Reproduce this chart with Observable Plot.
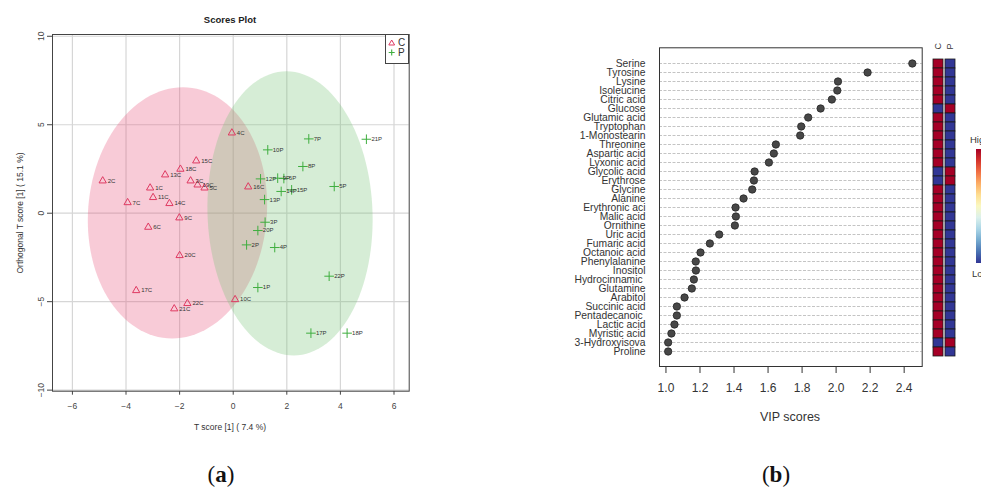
<!DOCTYPE html>
<html><head><meta charset="utf-8">
<script src="https://cdn.jsdelivr.net/npm/d3@7"></script>
<script src="https://cdn.jsdelivr.net/npm/@observablehq/plot@0.6"></script>
<style>
body{margin:0;background:#fff;}
#root{position:relative;width:981px;height:489px;overflow:hidden;font-family:"Liberation Sans",Arial,sans-serif;background:#fff;}
.ctr{position:absolute;transform:translate(-50%,-50%);white-space:nowrap;}
</style></head><body><div id="root"></div>
<script>
// ---------- (a) Scores plot data ----------
const cLabels = ["4C","15C","18C","13C","2C","3C","19C","5C","1C","11C","7C","14C","9C","6C","20C","17C","22C","21C","10C","16C"];
const cX = [-0.05,-1.38,-1.97,-2.54,-4.87,-1.59,-1.33,-1.07,-3.10,-2.99,-3.94,-2.38,-2.01,-3.17,-2.00,-3.62,-1.71,-2.20,0.07,0.56];
const cY = [4.54,2.96,2.49,2.17,1.83,1.83,1.60,1.43,1.43,0.89,0.60,0.55,-0.26,-0.79,-2.39,-4.37,-5.10,-5.40,-4.88,1.49];
const pLabels = ["21P","7P","10P","8P","12P","9P","6P","14P","15P","5P","13P","3P","20P","2P","4P","22P","1P","17P","18P"];
const pX = [4.97,2.82,1.29,2.60,1.02,1.66,1.89,1.79,2.18,3.77,1.17,1.19,0.92,0.50,1.55,3.58,0.92,2.90,4.25];
const pY = [4.18,4.20,3.58,2.64,1.94,1.98,1.96,1.23,1.32,1.51,0.77,-0.51,-0.98,-1.79,-1.94,-3.56,-4.20,-6.78,-6.78];
const xTicksA = [-6,-4,-2,0,2,4,6];
const yTicksA = [-10,-5,0,5,10];
// confidence ellipses (centre, radii, shear), one per group
const ellGroups = ["C","P"];
const ellCX = [-2.08, 2.12];
const ellCY = [0.02, -0.01];
const ellRX = [3.34, 3.08];
const ellRY = [7.10, 8.03];
const ellShear = [0.20, -0.135];

// ---------- (b) VIP data ----------
const metabolites = ["Serine","Tyrosine","Lysine","Isoleucine","Citric acid","Glucose","Glutamic acid","Tryptophan","1-Monostearin","Threonine","Aspartic acid","Lyxonic acid","Glycolic acid","Erythrose","Glycine","Alanine","Erythronic aci","Malic acid","Ornithine","Uric acid","Fumaric acid","Octanoic acid","Phenylalanine","Inositol","Hydrocinnamic ","Glutamine","Arabitol","Succinic acid","Pentadecanoic ","Lactic acid","Myristic acid","3-Hydroxyisova","Proline"];
const vipScores = [2.448,2.185,2.011,2.007,1.975,1.909,1.836,1.795,1.789,1.646,1.634,1.605,1.521,1.517,1.507,1.456,1.409,1.411,1.405,1.313,1.258,1.203,1.175,1.176,1.164,1.152,1.109,1.064,1.064,1.050,1.032,1.013,1.013];
const levelC = [1,1,1,1,1,-1,1,1,1,1,1,1,-1,-1,1,1,1,1,1,1,1,1,1,1,1,1,1,1,1,1,1,-1,1];
const levelP = [-1,-1,-1,-1,-1,1,-1,-1,-1,-1,-1,-1,1,1,-1,-1,-1,-1,-1,-1,-1,-1,-1,-1,-1,-1,-1,-1,-1,-1,-1,1,-1];
const vipTicks = [1.0,1.2,1.4,1.6,1.8,2.0,2.2,2.4];
const heatGroups = ["C","P"];

const root = document.getElementById("root");
function place(el, left, top){ el.style.position="absolute"; el.style.left=left+"px"; el.style.top=top+"px"; root.appendChild(el); return el; }
function label(html, x, y, css){ const d=document.createElement("div"); d.className="ctr"; d.innerHTML=html; d.style.left=x+"px"; d.style.top=y+"px"; Object.assign(d.style, css||{}); root.appendChild(d); return d; }

const cData = cLabels.map((l,i)=>({label:l, x:cX[i], y:cY[i]}));
const pData = pLabels.map((l,i)=>({label:l, x:pX[i], y:pY[i]}));
const ellPts = [];
ellGroups.forEach((g,i)=>{
  for(let k=0;k<=120;k++){
    const t = 2*Math.PI*k/120;
    ellPts.push({g, x: ellCX[i] + ellRX[i]*Math.cos(t) + ellShear[i]*Math.sin(t), y: ellCY[i] + ellRY[i]*Math.sin(t)});
  }
});

const colC = "#DF3A62", colP = "#3FAE3F";
const plotA = Plot.plot({
  width: 420, height: 440,
  marginLeft: 52, marginRight: 11.3, marginTop: 34, marginBottom: 49.3,
  x: {domain: [-6.743, 6.567], ticks: xTicksA, label: null, tickSize: 4, tickPadding: 8},
  y: {domain: [-10.06, 10.1], ticks: yTicksA, label: null, tickSize: 5, tickPadding: 4, tickRotate: -90},
  style: {fontFamily: "Liberation Sans, Arial, sans-serif", fontSize: "8.5px", color: "#444", background: "transparent"},
  marks: [
    Plot.gridX(xTicksA, {stroke: "#d6d6d6", strokeOpacity: 1, strokeWidth: 1.2}),
    Plot.gridY(yTicksA, {stroke: "#d6d6d6", strokeOpacity: 1, strokeWidth: 1.2}),
    Plot.line(ellPts.filter(d=>d.g==="C"), {x:"x", y:"y", fill:"#E8537A", fillOpacity:0.3, stroke:"none", curve:"linear-closed"}),
    Plot.line(ellPts.filter(d=>d.g==="P"), {x:"x", y:"y", fill:"#76C376", fillOpacity:0.3, stroke:"none", curve:"linear-closed"}),
    Plot.dot(cData, {x:"x", y:"y", symbol:"triangle", r:2.7, stroke: colC, fill:"none", strokeWidth:1}),
    Plot.dot(pData, {x:"x", y:"y", symbol:"plus", r:3.2, stroke: colP, strokeWidth:1}),
    Plot.text(cData, {x:"x", y:"y", text:"label", dx:5, textAnchor:"start", fontSize:6, fill:"#333"}),
    Plot.text(pData, {x:"x", y:"y", text:"label", dx:5, textAnchor:"start", fontSize:6, fill:"#333"}),
    Plot.frame({stroke:"#444", strokeWidth:1})
  ]
});
place(plotA, 0, 0);

// legend of (a)
const legA = document.createElement("div");
legA.innerHTML = `<svg width="24" height="30" style="display:block">
<rect x="0.5" y="0.5" width="23" height="29" fill="#fff" stroke="#444"/>
<path d="M3.8,11 L6.7,6 L9.6,11 Z" fill="none" stroke="${colC}" stroke-width="1"/>
<text x="13" y="12" font-size="10" fill="#333" font-family="Liberation Sans">C</text>
<path d="M6.7,15.5 V21.5 M3.7,18.5 H9.7" stroke="${colP}" stroke-width="1.1"/>
<text x="13" y="22" font-size="10" fill="#333" font-family="Liberation Sans">P</text></svg>`;
place(legA, 385, 34);

label("Scores Plot", 230, 19, {fontWeight:"bold", fontSize:"9.5px", color:"#222"});
label("T score [1] ( 7.4 %)", 230, 427, {fontSize:"8.5px", color:"#333"});
label("Orthogonal T score [1] ( 15.1 %)", 20, 213, {fontSize:"8.5px", color:"#333", transform:"translate(-50%,-50%) rotate(-90deg)"});

// ---------- (b) VIP plot ----------
const vipData = metabolites.map((m,i)=>({name:m, vip:vipScores[i]}));
const plotB = Plot.plot({
  width: 375, height: 440,
  marginLeft: 99, marginRight: 13.3, marginTop: 47.3, marginBottom: 74,
  x: {domain: [0.962, 2.506], label: null},
  y: {type: "point", domain: metabolites, padding: 0.9, label: null},
  style: {fontFamily: "Liberation Sans, Arial, sans-serif", color: "#333", background: "transparent"},
  marks: [
    Plot.ruleY(metabolites, {stroke:"#c4c4c4", strokeDasharray:"3,1.5", strokeWidth:1}),
    Plot.axisY({tickSize: 0, tickPadding: 14, fontSize: 10.3, label: null}),
    Plot.axisX({ticks: vipTicks, tickFormat: d3.format(".1f"), tickSize: 7, tickPadding: 10, fontSize: 12, label: null}),
    Plot.frame({stroke:"#333", strokeWidth:1}),
    Plot.dot(vipData, {x:"vip", y:"name", r:3.7, fill:"#474747", stroke:"#262626", strokeWidth:0.8})
  ]
});
place(plotB, 560, 0);
label("VIP scores", 790, 417, {fontSize:"12.5px", color:"#333"});

// heatmap
const heatData = [];
metabolites.forEach((m,i)=>{ heatData.push({name:m, group:"C", level:levelC[i]}); heatData.push({name:m, group:"P", level:levelP[i]}); });
const plotH = Plot.plot({
  width: 40, height: 440,
  marginLeft: 7.3, marginRight: 9, marginTop: 51, marginBottom: 76.7,
  x: {domain: heatGroups, paddingInner: 0.16, paddingOuter: 0, axis: "top", label: null, tickSize: 0, tickPadding: 2, tickRotate: -90},
  y: {domain: metabolites, padding: 0, axis: null},
  color: {type: "linear", scheme: "RdYlBu", reverse: true, domain: [-1, 1]},
  style: {fontFamily: "Liberation Sans, Arial, sans-serif", fontSize: "9px", color: "#333", background: "transparent"},
  marks: [
    Plot.cell(heatData, {x:"group", y:"name", fill:"level", stroke:"#1a1a1a", strokeWidth:0.8})
  ]
});
place(plotH, 925, 0);

// colour key (cropped at the right edge, as in the reference)
const key = document.createElement("div");
const stops = d3.range(0, 1.0001, 0.1).map(t=>`<stop offset="${t}" stop-color="${d3.interpolateRdYlBu(t)}"/>`).join("");
key.innerHTML = `<svg width="30" height="160" style="display:block;overflow:visible">
<defs><linearGradient id="kg" x1="0" y1="0" x2="0" y2="1">${stops}</linearGradient></defs>
<text x="0" y="13" font-size="9.5" fill="#333" font-family="Liberation Sans">High</text>
<rect x="6" y="19" width="20" height="114" fill="url(#kg)"/>
<text x="2" y="147" font-size="9.5" fill="#333" font-family="Liberation Sans">Low</text></svg>`;
place(key, 970, 130);

// panel captions
label("(<b>a</b>)", 221, 475, {fontFamily:"Liberation Serif, serif", fontSize:"23px", color:"#111"});
label("(<b>b</b>)", 776, 475, {fontFamily:"Liberation Serif, serif", fontSize:"23px", color:"#111"});
</script></body></html>
